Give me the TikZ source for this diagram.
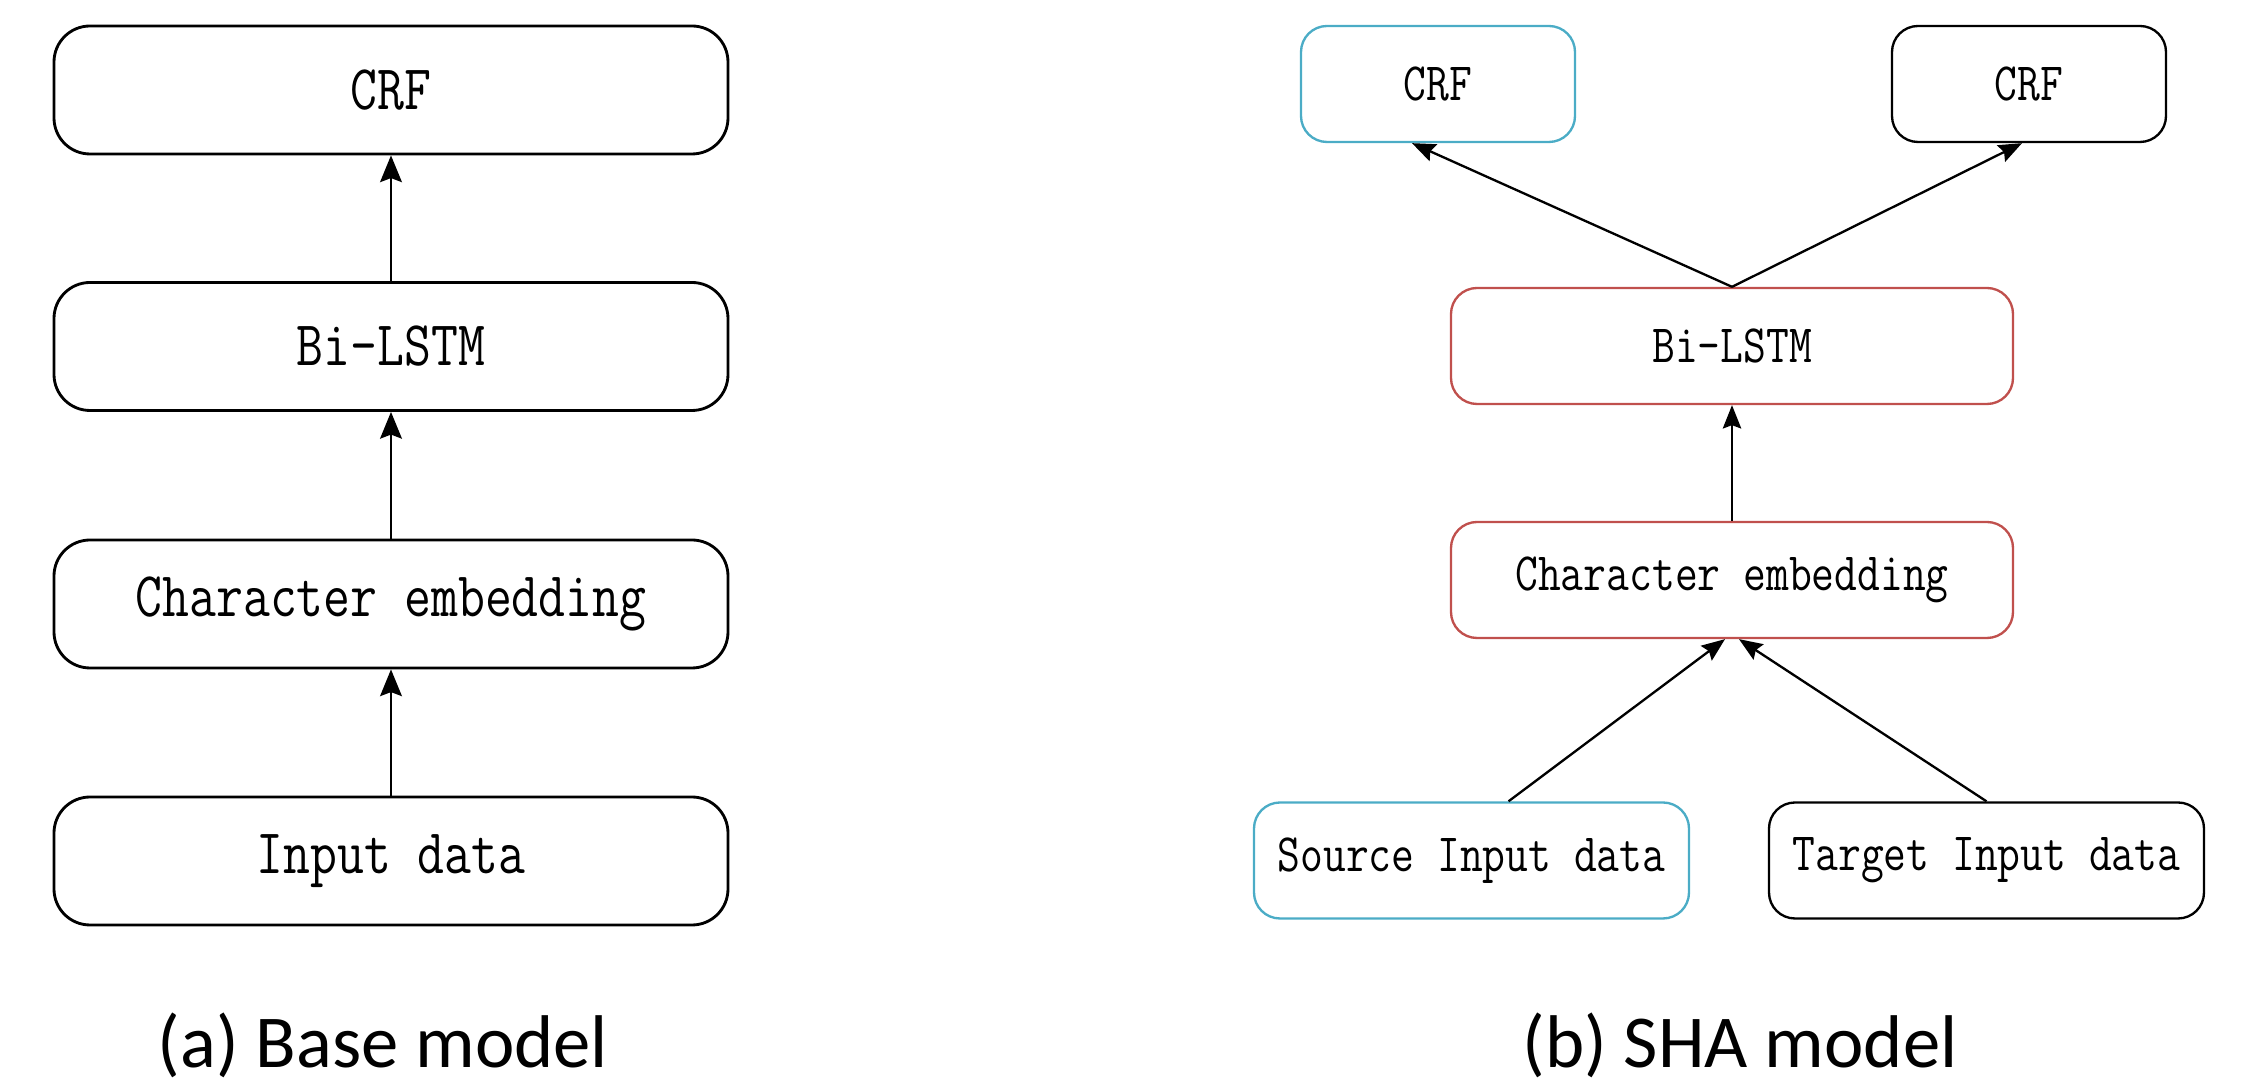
\documentclass[tikz,border=0pt]{standalone}
\usepackage{fontspec}
\setmainfont{Carlito}
\usetikzlibrary{arrows.meta,calc}
\definecolor{cblue}{RGB}{75,172,198}
\definecolor{cred}{RGB}{192,80,77}
\newcommand\boxtxt[1]{\scalebox{0.82}[1]{#1}}
\begin{document}
\begin{tikzpicture}[x=0.3pt,y=-0.3pt,
  bigbox/.style={draw=black,line width=0.85pt,rounded corners=10.8pt,
    minimum width=202.2pt,minimum height=38.4pt,inner sep=0pt,
    font=\ttfamily\fontsize{19.1}{21}\selectfont},
  smallbox/.style={draw=black,line width=0.7pt,rounded corners=7.8pt,
    minimum height=34.8pt,inner sep=0pt,
    font=\ttfamily\fontsize{16.2}{18}\selectfont},
  bigarrow/.style={line width=0.8pt,-{Stealth[length=8pt,width=6.5pt,inset=1.2pt]}},
  smallarrow/.style={line width=0.7pt,-{Stealth[length=7pt,width=5.5pt,inset=1pt]}},
  caption/.style={font=\fontsize{22.4}{26}\selectfont,anchor=base}]
\useasboundingbox (0,0) rectangle (2248,1088);
% (a) Base model
\node[bigbox] (lcrf) at (391,90) {\boxtxt{CRF}};
\node[bigbox] (llstm) at (391,346.5) {\boxtxt{Bi-LSTM}};
\node[bigbox] (lemb) at (391,604) {\boxtxt{Character embedding}};
\node[bigbox] (lin) at (391,861) {\boxtxt{Input data}};
\draw[bigarrow] (lin) -- (lemb);
\draw[bigarrow] (lemb) -- (llstm);
\draw[bigarrow] (llstm.north) -- (lcrf.south);
\node[caption] (capa) at (383,1068) {(a) Base model};
% (b) SHA model
\node[smallbox,draw=cblue,minimum width=82.2pt] (rcrfa) at (1438,84) {\boxtxt{CRF}};
\node[smallbox,minimum width=82.2pt] (rcrfb) at (2029,84) {\boxtxt{CRF}};
\node[smallbox,draw=cred,minimum width=168.6pt] (rlstm) at (1732,346) {\boxtxt{Bi-LSTM}};
\node[smallbox,draw=cred,minimum width=168.6pt] (remb) at (1732,580) {\boxtxt{Character embedding}};
\node[smallbox,draw=cblue,minimum width=130.5pt] (rsrc) at (1471.5,860.5) {\boxtxt{Source Input data}};
\node[smallbox,minimum width=130.5pt] (rtgt) at (1986.5,860.5) {\boxtxt{Target Input data}};
\draw[smallarrow] (rlstm.north) -- ($(rcrfa.south)+(-26,0)$);
\draw[smallarrow] (rlstm.north) -- ($(rcrfb.south)+(-7,0)$);
\draw[smallarrow] (remb) -- (rlstm);
\draw[smallarrow] ($(rsrc.north)+(37,0)$) -- ($(remb.south)+(-7,0)$);
\draw[smallarrow] (rtgt.north) -- ($(remb.south)+(7,0)$);
\node[caption] (capb) at (1740,1068) {(b) SHA model};
\end{tikzpicture}
\end{document}
